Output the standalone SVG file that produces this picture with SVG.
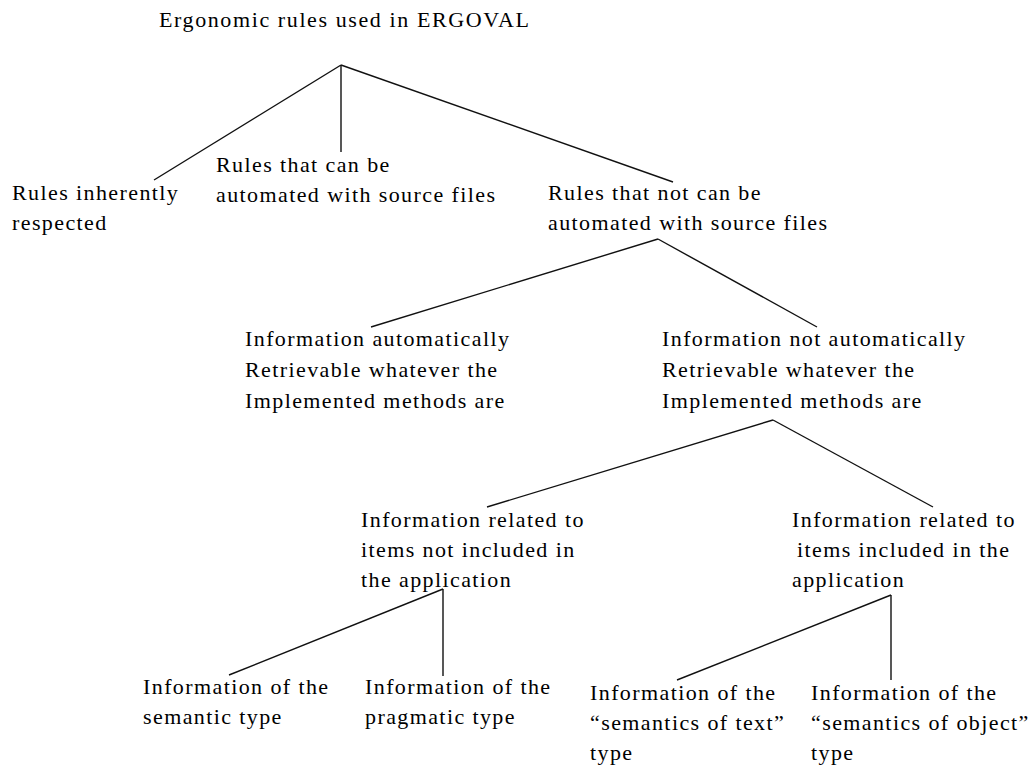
<svg xmlns="http://www.w3.org/2000/svg" width="1031" height="769" viewBox="0 0 1031 769">
<style>
text{font-family:"Liberation Serif","Times New Roman",serif;font-size:22px;fill:#000;letter-spacing:1.4px}
.t{letter-spacing:1.6px}
.c line{stroke:#111;stroke-width:1.4;fill:none}
</style>
<rect width="1031" height="769" fill="#fff"/>
<g class="c" id="connectors">
<line x1="341" y1="65" x2="154" y2="180"/>
<line x1="341" y1="65" x2="341" y2="152"/>
<line x1="341" y1="65" x2="673" y2="182"/>
<line x1="658" y1="239" x2="371" y2="327"/>
<line x1="658" y1="239" x2="817" y2="327"/>
<line x1="773" y1="420" x2="487" y2="507"/>
<line x1="773" y1="420" x2="933" y2="507"/>
<line x1="443" y1="589" x2="229" y2="675"/>
<line x1="443" y1="589" x2="443" y2="676"/>
<line x1="891" y1="595" x2="677" y2="680"/>
<line x1="891" y1="595" x2="891" y2="680"/>
</g>
<g id="root"><text class="t" x="159" y="27">Ergonomic rules used in ERGOVAL</text></g>
<g id="n1"><text x="12" y="200">Rules inherently</text><text x="12" y="230">respected</text></g>
<g id="n2"><text x="216" y="172">Rules that can be</text><text x="216" y="202">automated with source files</text></g>
<g id="n3"><text x="548" y="200">Rules that not can be</text><text x="548" y="230">automated with source files</text></g>
<g id="n4"><text x="245" y="346">Information automatically</text><text x="245" y="377">Retrievable whatever the</text><text x="245" y="408">Implemented methods are</text></g>
<g id="n5"><text x="662" y="346">Information not automatically</text><text x="662" y="377">Retrievable whatever the</text><text x="662" y="408">Implemented methods are</text></g>
<g id="n6"><text x="361" y="527">Information related to</text><text x="361" y="557">items not included in</text><text x="361" y="587">the application</text></g>
<g id="n7"><text x="792" y="527">Information related to</text><text x="797" y="557">items included in the</text><text x="792" y="587">application</text></g>
<g id="n8"><text x="143" y="694">Information of the</text><text x="143" y="724">semantic type</text></g>
<g id="n9"><text x="365" y="694">Information of the</text><text x="365" y="724">pragmatic type</text></g>
<g id="n10"><text x="590" y="700">Information of the</text><text x="590" y="730">“semantics of text”</text><text x="590" y="760">type</text></g>
<g id="n11"><text x="811" y="700">Information of the</text><text x="811" y="730">“semantics of object”</text><text x="811" y="760">type</text></g>
</svg>
